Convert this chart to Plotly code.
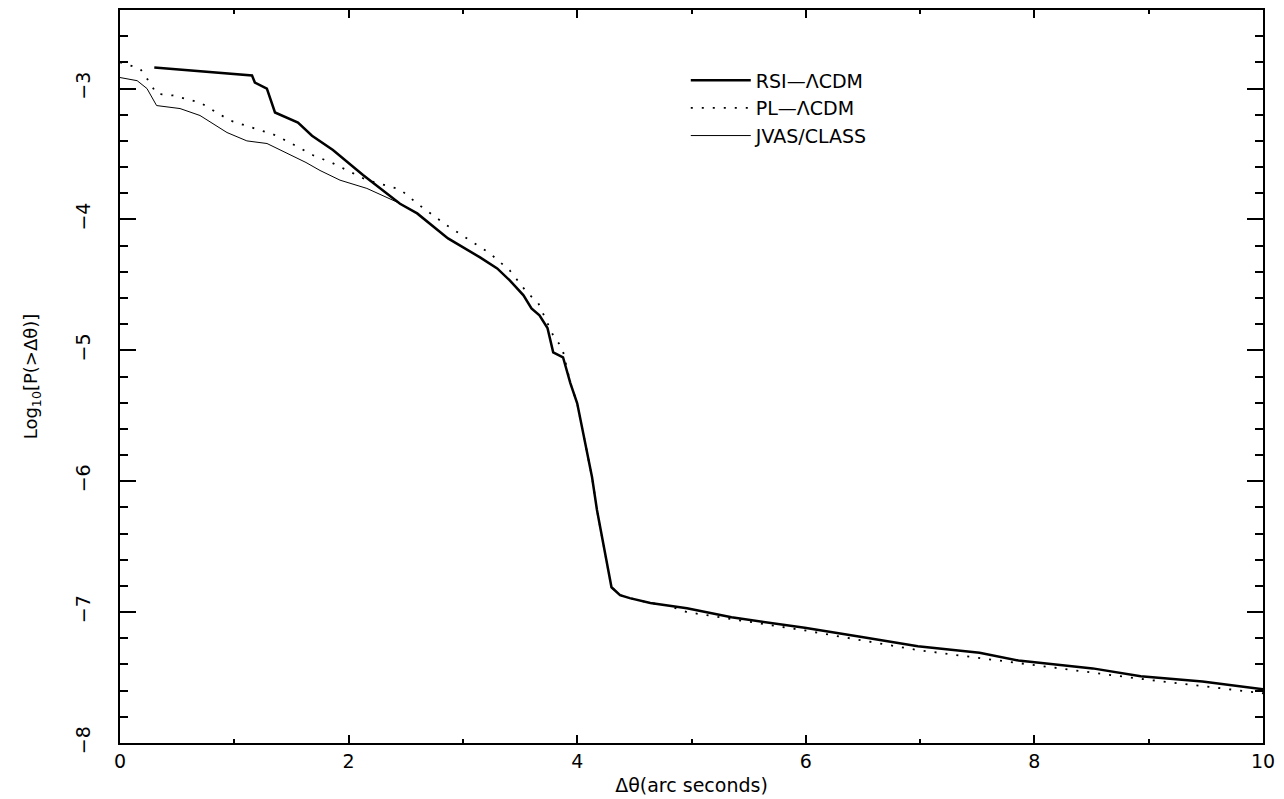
import plotly.graph_objects as go

# RSI-LCDM (thick solid)
rsi_x = [0.30, 0.60, 0.90, 1.155, 1.18, 1.285, 1.356, 1.557, 1.68, 1.863, 2.126, 2.45, 2.60,
         2.87, 3.15, 3.30, 3.41, 3.53, 3.60, 3.67, 3.74, 3.79, 3.876, 3.94, 4.0, 4.05, 4.13,
         4.173, 4.217, 4.26, 4.30, 4.375, 4.46, 4.64, 4.785, 4.96, 5.35, 5.99, 6.49, 6.98,
         7.52, 7.86, 8.51, 8.93, 9.47, 10.0]
rsi_y = [-2.84, -2.86, -2.88, -2.90, -2.954, -3.0, -3.183, -3.26, -3.36, -3.47, -3.66, -3.88,
         -3.954, -4.145, -4.29, -4.374, -4.466, -4.58, -4.68, -4.733, -4.83, -5.015, -5.053,
         -5.25, -5.405, -5.63, -5.97, -6.22, -6.43, -6.626, -6.81, -6.87, -6.893, -6.93,
         -6.947, -6.97, -7.04, -7.12, -7.19, -7.26, -7.31, -7.37, -7.43, -7.49, -7.53, -7.59]

# PL-LCDM (dotted)
pl_x = [0.0, 0.175, 0.26, 0.32, 0.464, 0.70, 0.962, 1.225, 1.34, 1.48, 1.69, 1.86, 2.16, 2.45,
        2.61, 2.86, 3.045, 3.237, 3.41, 3.56, 3.66, 3.79, 3.87, 3.94, 4.0, 4.05, 4.13, 4.173,
        4.217, 4.26, 4.30, 4.375, 4.46, 4.64, 4.785, 4.96, 5.99, 6.98, 7.86, 8.93, 10.0]
pl_y = [-2.80, -2.847, -2.954, -3.04, -3.053, -3.107, -3.244, -3.32, -3.35, -3.41, -3.51,
        -3.57, -3.70, -3.77, -3.885, -4.046, -4.153, -4.26, -4.39, -4.557, -4.64, -4.886,
        -4.985, -5.25, -5.405, -5.63, -5.97, -6.22, -6.43, -6.626, -6.81, -6.87, -6.893,
        -6.93, -6.947, -7.0, -7.14, -7.29, -7.39, -7.51, -7.62]

# JVAS/CLASS (thin solid)
jvas_x = [0.0, 0.15, 0.236, 0.32, 0.525, 0.70, 0.936, 1.11, 1.286, 1.45, 1.627, 1.75, 1.925,
          2.16, 2.45, 2.60]
jvas_y = [-2.916, -2.94, -3.0, -3.13, -3.153, -3.206, -3.336, -3.40, -3.42, -3.49, -3.565,
          -3.626, -3.70, -3.763, -3.878, -3.954]

names = ["RSI—ΛCDM", "PL—ΛCDM", "JVAS/CLASS"]
x_ticks = [0, 2, 4, 6, 8, 10]
y_ticks = [-8, -7, -6, -5, -4, -3]

FONT = "DejaVu Sans"

fig = go.Figure()
fig.add_trace(go.Scatter(x=rsi_x, y=rsi_y, mode="lines", name=names[0],
                         line=dict(color="black", width=2.5)))
fig.add_trace(go.Scatter(x=pl_x, y=pl_y, mode="lines", name=names[1],
                         line=dict(color="black", width=1.8, dash="2px,9px")))
fig.add_trace(go.Scatter(x=jvas_x, y=jvas_y, mode="lines", name=names[2],
                         line=dict(color="black", width=1)))

fig.update_layout(
    width=1284, height=799,
    margin=dict(l=120, r=21, t=10, b=56),
    paper_bgcolor="white", plot_bgcolor="white",
    font=dict(family=FONT, size=18, color="black"),
    showlegend=True,
    legend=dict(x=0.495, y=0.93, xanchor="left", yanchor="top",
                bgcolor="rgba(0,0,0,0)", font=dict(size=19, family=FONT),
                itemwidth=60, tracegroupgap=0),
    xaxis=dict(range=[0, 10], tickvals=x_ticks, ticktext=[str(v) for v in x_ticks],
               ticks="inside", ticklen=8, tickwidth=1.5, tickcolor="black",
               minor=dict(dtick=1, ticks="inside", ticklen=4, tickwidth=1.5, tickcolor="black"),
               showline=True, linecolor="black", linewidth=2, mirror="ticks",
               showgrid=False, zeroline=False, automargin=False,
               tickfont=dict(size=19),
               title=dict(text="Δθ(arc seconds)", font=dict(size=19), standoff=8)),
    yaxis=dict(range=[-8, -2.4], tickvals=y_ticks, ticktext=["−" + str(abs(v)) for v in y_ticks],
               ticks="inside", ticklen=16, tickwidth=1.5, tickcolor="black",
               minor=dict(dtick=0.2, tick0=-8, ticks="inside", ticklen=8, tickwidth=1.5,
                          tickcolor="black"),
               showline=True, linecolor="black", linewidth=2, mirror="ticks",
               showgrid=False, zeroline=False, tickangle=-90, automargin=False,
               tickfont=dict(size=19), ticklabelstandoff=20,
               title=dict(text="Log<sub>10</sub>[P(>Δθ)]", font=dict(size=18), standoff=30)),
)

fig.write_html("out.html")
